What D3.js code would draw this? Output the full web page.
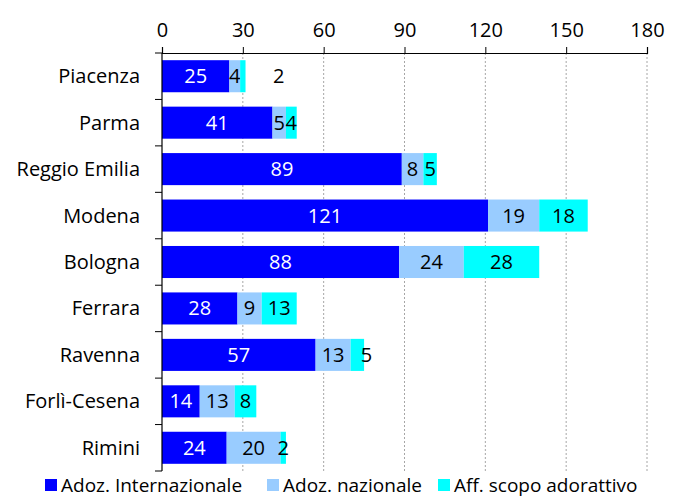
<!DOCTYPE html>
<html>
<head>
<meta charset="utf-8">
<script src="https://cdn.jsdelivr.net/npm/d3@7"></script>
<style>
  body { margin: 0; background: #fff; }
  text { font-family: "Open Sans", Lato, sans-serif; }
</style>
</head>
<body>
<svg width="679" height="499"></svg>
<script>
var provinces = ["Piacenza", "Parma", "Reggio Emilia", "Modena", "Bologna", "Ferrara", "Ravenna", "Forlì-Cesena", "Rimini"];
var adozInternazionale = [25, 41, 89, 121, 88, 28, 57, 14, 24];
var adozNazionale = [4, 5, 8, 19, 24, 9, 13, 13, 20];
var affScopo = [2, 4, 5, 18, 28, 13, 5, 8, 2];
var seriesNames = ["Adoz. Internazionale", "Adoz. nazionale", "Aff. scopo adorattivo"];
var xTicks = [0, 30, 60, 90, 120, 150, 180];

var colors = ["#0000ff", "#99ccff", "#00ffff"];
var labelColors = ["#fff", "#000", "#000"];
var fontSize = 20;

var svg = d3.select("svg"),
  margin = {top: 53, left: 162, right: 32, bottom: 28},
  width = +svg.attr("width") - margin.left - margin.right,
  height = +svg.attr("height") - margin.top - margin.bottom;

var rows = provinces.map(function(p, i) {
  return {name: p, a: adozInternazionale[i], b: adozNazionale[i], c: affScopo[i]};
});
var stack = d3.stack().keys(["a", "b", "c"])(rows);

var x = d3.scaleLinear().domain([0, 180]).range([0, width]);
var y = d3.scaleBand().domain(provinces).range([0, height]).paddingInner(0.31).paddingOuter(0.155);

var g = svg.append("g").attr("transform", "translate(" + margin.left + "," + margin.top + ")");

// gridlines
g.append("g").selectAll("line")
  .data(xTicks.slice(1))
  .enter().append("line")
  .attr("x1", function(d) { return x(d); })
  .attr("x2", function(d) { return x(d); })
  .attr("y1", 0).attr("y2", height)
  .attr("stroke", "#a6a6a6")
  .attr("stroke-dasharray", "2,2");

// bars
var layer = g.selectAll(".layer")
  .data(stack)
  .enter().append("g")
  .attr("fill", function(d, i) { return colors[i]; });

layer.selectAll("rect")
  .data(function(d) { return d; })
  .enter().append("rect")
  .attr("x", function(d) { return x(d[0]); })
  .attr("width", function(d) { return x(d[1]) - x(d[0]); })
  .attr("y", function(d) { return y(d.data.name); })
  .attr("height", y.bandwidth());

// labels; a couple are nudged like in the original
var nudge = {"Piacenza-2": 36, "Ravenna-2": 9};
layer.each(function(s, si) {
  d3.select(this).selectAll("text")
    .data(s)
    .enter().append("text")
    .attr("x", function(d) {
      var off = nudge[d.data.name + "-" + si] || 0;
      return (x(d[0]) + x(d[1])) / 2 + off;
    })
    .attr("y", function(d) { return y(d.data.name) + y.bandwidth() / 2; })
    .attr("dy", "0.35em")
    .attr("text-anchor", "middle")
    .attr("fill", labelColors[si])
    .attr("font-size", fontSize)
    .text(function(d) { return d[1] - d[0]; });
});

// top axis
var xAxis = g.append("g")
  .call(d3.axisTop(x).tickValues(xTicks).tickSize(6).tickPadding(10));
xAxis.select(".domain").attr("stroke", "#000").attr("stroke-width", 1.2);
xAxis.selectAll("text").attr("font-size", fontSize).attr("fill", "#000")
  .style("font-family", "'Open Sans', Lato, sans-serif");

// left axis, ticks at category boundaries
g.append("line").attr("x1", 0).attr("x2", 0).attr("y1", 0).attr("y2", height)
  .attr("stroke", "#000").attr("stroke-width", 1.2);
var step = height / provinces.length;
g.append("g").selectAll("line")
  .data(d3.range(provinces.length + 1))
  .enter().append("line")
  .attr("x1", -7).attr("x2", 0)
  .attr("y1", function(d) { return d * step; })
  .attr("y2", function(d) { return d * step; })
  .attr("stroke", "#000");

g.append("g").selectAll("text")
  .data(provinces)
  .enter().append("text")
  .attr("x", -22)
  .attr("y", function(d) { return y(d) + y.bandwidth() / 2; })
  .attr("dy", "0.35em")
  .attr("text-anchor", "end")
  .attr("font-size", fontSize)
  .text(function(d) { return d; });

// legend
var legendX = [45, 267, 438];
var legend = svg.append("g").selectAll("g")
  .data(seriesNames)
  .enter().append("g")
  .attr("transform", function(d, i) { return "translate(" + legendX[i] + ",485)"; });
legend.append("rect").attr("x", 0).attr("y", -6).attr("width", 12).attr("height", 12)
  .attr("fill", function(d, i) { return colors[i]; });
legend.append("text").attr("x", 16).attr("dy", "0.35em").attr("font-size", 19)
  .text(function(d) { return d; });
</script>
</body>
</html>
